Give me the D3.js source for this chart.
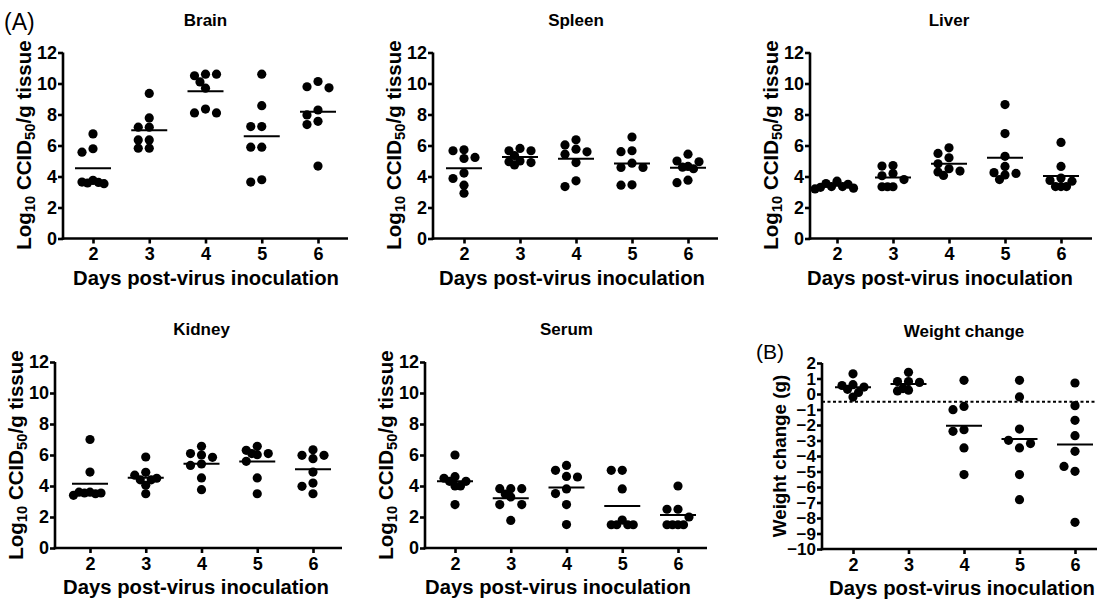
<!DOCTYPE html>
<html><head><meta charset="utf-8">
<script src="https://cdn.jsdelivr.net/npm/d3@7"></script>
<style>
html,body{margin:0;padding:0;background:#fff;}
svg{display:block;font-family:"Liberation Sans",Arial,Helvetica,sans-serif;}
</style></head>
<body>
<svg id="chart" width="1097" height="600"></svg>
<script>
// ---- data ----
const days = [2, 3, 4, 5, 6];
const logTicks = [0, 2, 4, 6, 8, 10, 12];
const weightTicks = [-10, -9, -8, -7, -6, -5, -4, -3, -2, -1, 0, 1, 2];
const weightBaseline = -0.5;

const brain = [
  [6.75, 5.79, 5.57, 3.75, 3.64, 3.54, 3.58, 3.62],
  [9.36, 7.78, 7.18, 7.18, 6.36, 6.36, 5.83, 5.83],
  [10.6, 10.5, 10.6, 10.1, 9.7, 8.35, 8.1, 8.1],
  [10.6, 8.57, 7.22, 7.22, 5.89, 5.89, 3.79, 3.64],
  [10.13, 9.79, 9.72, 8.29, 7.97, 7.56, 7.35, 4.67]
];
const spleen = [
  [5.72, 5.66, 5.23, 5.16, 4.22, 3.87, 3.44, 2.92],
  [5.81, 5.66, 5.66, 5.35, 5.0, 4.95, 4.9, 4.75],
  [6.37, 6.04, 5.76, 5.59, 5.44, 4.9, 3.72, 3.35],
  [6.55, 5.66, 5.6, 4.86, 4.58, 4.58, 3.46, 3.44],
  [5.44, 5.0, 4.95, 4.65, 4.6, 4.5, 3.76, 3.6]
];
const liver = [
  [3.7, 3.55, 3.5, 3.35, 3.35, 3.3, 3.25, 3.2],
  [4.71, 4.67, 4.2, 4.05, 3.8, 3.34, 3.34, 3.34],
  [5.85, 5.49, 5.21, 4.82, 4.5, 4.35, 4.29, 4.07],
  [8.64, 6.77, 5.3, 4.65, 4.25, 4.2, 4.1, 3.8],
  [6.2, 4.65, 3.9, 3.75, 3.7, 3.35, 3.35, 3.35]
];
const kidney = [
  [7.0, 4.9, 3.6, 3.6, 3.55, 3.55, 3.5, 3.4],
  [5.87, 4.88, 4.7, 4.5, 4.4, 4.4, 4.05, 3.5],
  [6.56, 6.09, 6.0, 5.85, 5.42, 5.33, 4.52, 3.76],
  [6.56, 6.3, 6.09, 6.09, 6.02, 5.59, 4.52, 3.5],
  [6.34, 5.98, 5.98, 5.76, 4.9, 4.19, 3.98, 3.5]
];
const serum = [
  [6.0, 4.6, 4.5, 4.3, 4.3, 4.0, 4.0, 2.8],
  [3.83, 3.83, 3.83, 3.48, 3.29, 2.8, 2.8, 1.78],
  [5.33, 5.01, 4.62, 4.58, 3.81, 3.51, 2.8, 1.51],
  [5.01, 5.01, 3.81, 1.8, 1.5, 1.5, 1.5, 1.5],
  [4.0, 2.5, 2.5, 2.0, 1.5, 1.5, 1.5, 1.5]
];
const weight = [
  [1.3, 0.6, 0.55, 0.45, 0.3, 0.1, -0.2],
  [1.4, 0.8, 0.8, 0.75, 0.35, 0.25, 0.2],
  [0.88, -0.8, -1.01, -2.3, -2.41, -3.48, -5.2],
  [0.88, -0.19, -2.26, -3.48, -2.99, -3.2, -5.2, -6.82],
  [0.71, -0.75, -1.7, -2.69, -3.7, -4.99, -4.67, -8.28]
];

const xLabel = "Days post-virus inoculation";

// ---- layout ----
const panels = [
  {title: "Brain",  data: brain,  left: 63,  t2: 93,  t6: 318,  right: 348,  top: 52.5, bottom: 238.5, log: true, xlabCx: 206, ylabCy: 145, tag: "(A)"},
  {title: "Spleen", data: spleen, left: 433, t2: 464, t6: 688,  right: 718,  top: 52.5, bottom: 238.5, log: true, xlabCx: 572, ylabCy: 145},
  {title: "Liver",  data: liver,  left: 810, t2: 837, t6: 1061, right: 1092, top: 52.5, bottom: 238.5, log: true, xlabCx: 940, ylabCy: 145},
  {title: "Kidney", data: kidney, left: 55,  t2: 90,  t6: 313,  right: 342,  top: 362,  bottom: 548,   log: true, xlabCx: 196, ylabCy: 455},
  {title: "Serum",  data: serum,  left: 425, t2: 455, t6: 678,  right: 707,  top: 362,  bottom: 548,   log: true, xlabCx: 558, ylabCy: 455},
  {title: "Weight change", data: weight, left: 822, t2: 853, t6: 1075, right: 1097, top: 363, bottom: 549, log: false, xlabCx: 962, ylabCy: 456, tag: "(B)"}
];

const svg = d3.select("#chart");
const R = 4.6;          // dot radius
const SLOT = 11;        // horizontal slot width of the column scatter
const MEAN_HALF = 18;   // half length of mean bar

function columnScatter(values, y) {
  const placed = [];
  const order = [0, -1, 1, -0.5, 0.5, -1.5, 1.5, -2, 2, -2.5, 2.5];
  return values.map(v => {
    const py = y(v);
    let k = order.find(c => placed.every(p => Math.abs(p.k - c) * SLOT >= SLOT * 0.45 || Math.abs(p.py - py) >= 7.8));
    if (k === undefined) k = 0;
    placed.push({k, py});
    return {v, dx: k * SLOT};
  });
}

panels.forEach(p => {
  const g = svg.append("g");
  const x0 = d3.scaleLinear().domain([2, 6]).range([p.t2, p.t6]);
  const x = d3.scaleLinear().domain([x0.invert(p.left), x0.invert(p.right)]).range([p.left, p.right]);
  const y = d3.scaleLinear().domain(p.log ? [0, 12] : [-10, 2]).range([p.bottom, p.top]);

  // axes
  const xAxis = d3.axisBottom(x).tickValues(days).tickSize(5).tickSizeOuter(0).tickPadding(4).tickFormat(d3.format("d"));
  const yAxis = d3.axisLeft(y).tickValues(p.log ? logTicks : weightTicks).tickSize(5).tickSizeOuter(0).tickPadding(1).tickFormat(d3.format("d"));
  const gx = g.append("g").attr("transform", `translate(0,${p.bottom})`).call(xAxis);
  const gy = g.append("g").attr("transform", `translate(${p.left},0)`).call(yAxis);
  [gx, gy].forEach(a => {
    a.selectAll("path,line").attr("stroke", "#000").attr("stroke-width", 2.6);
    a.selectAll("text").attr("fill", "#000").attr("font-weight", "bold")
      .attr("font-size", 18).attr("font-family", '"Liberation Sans",Arial,sans-serif');
  });
  if (!p.log) gy.selectAll("text").attr("font-size", 17).attr("dy", "0.34em");
  gy.select(".domain").attr("d", `M0,${p.top}V${p.bottom + 1.3}`);
  gx.select(".domain").attr("d", `M${p.left - 1.3},0H${p.right}`);

  // baseline for weight
  if (!p.log) {
    g.append("line").attr("x1", p.left).attr("x2", p.right)
      .attr("y1", y(weightBaseline)).attr("y2", y(weightBaseline))
      .attr("stroke", "#000").attr("stroke-width", 2).attr("stroke-dasharray", "3,2.5");
  }

  // points and means
  p.data.forEach((vals, i) => {
    const cx = x(days[i]);
    const pts = columnScatter(vals, y);
    g.append("g").selectAll("circle").data(pts).join("circle")
      .attr("cx", d => cx + d.dx).attr("cy", d => y(d.v)).attr("r", R).attr("fill", "#000");
    const m = d3.mean(vals);
    g.append("line").attr("x1", cx - MEAN_HALF).attr("x2", cx + MEAN_HALF)
      .attr("y1", y(m)).attr("y2", y(m)).attr("stroke", "#000").attr("stroke-width", 2);
  });

  // title
  g.append("text").attr("x", x(4)).attr("y", p.log ? p.top - 27 : p.top - 26).attr("text-anchor", "middle")
    .attr("font-weight", "bold").attr("font-size", 17).text(p.title);

  // x label
  g.append("text").attr("x", p.xlabCx).attr("y", p.bottom + 46)
    .attr("text-anchor", "middle").attr("font-weight", "bold")
    .attr("font-size", 20.3).text(xLabel);

  // y label
  const yl = g.append("text")
    .attr("transform", `translate(${p.left - (p.log ? 32 : 36)},${p.ylabCy}) rotate(-90)`)
    .attr("text-anchor", "middle").attr("font-weight", "bold").attr("font-size", p.log ? 20.5 : 18.8);
  if (p.log) {
    yl.append("tspan").text("Log");
    yl.append("tspan").attr("font-size", "0.72em").attr("dy", "0.3em").text("10");
    yl.append("tspan").attr("dy", "-0.22em").text(" CCID");
    yl.append("tspan").attr("font-size", "0.72em").attr("dy", "0.3em").text("50");
    yl.append("tspan").attr("dy", "-0.22em").text("/g tissue");
  } else {
    yl.text("Weight change (g)");
  }

  if (p.tag) {
    g.append("text").attr("x", p.log ? 4 : 756).attr("y", p.log ? 30 : 359)
      .attr("font-size", p.log ? 23 : 21).text(p.tag);
  }
});
</script>
</body></html>
